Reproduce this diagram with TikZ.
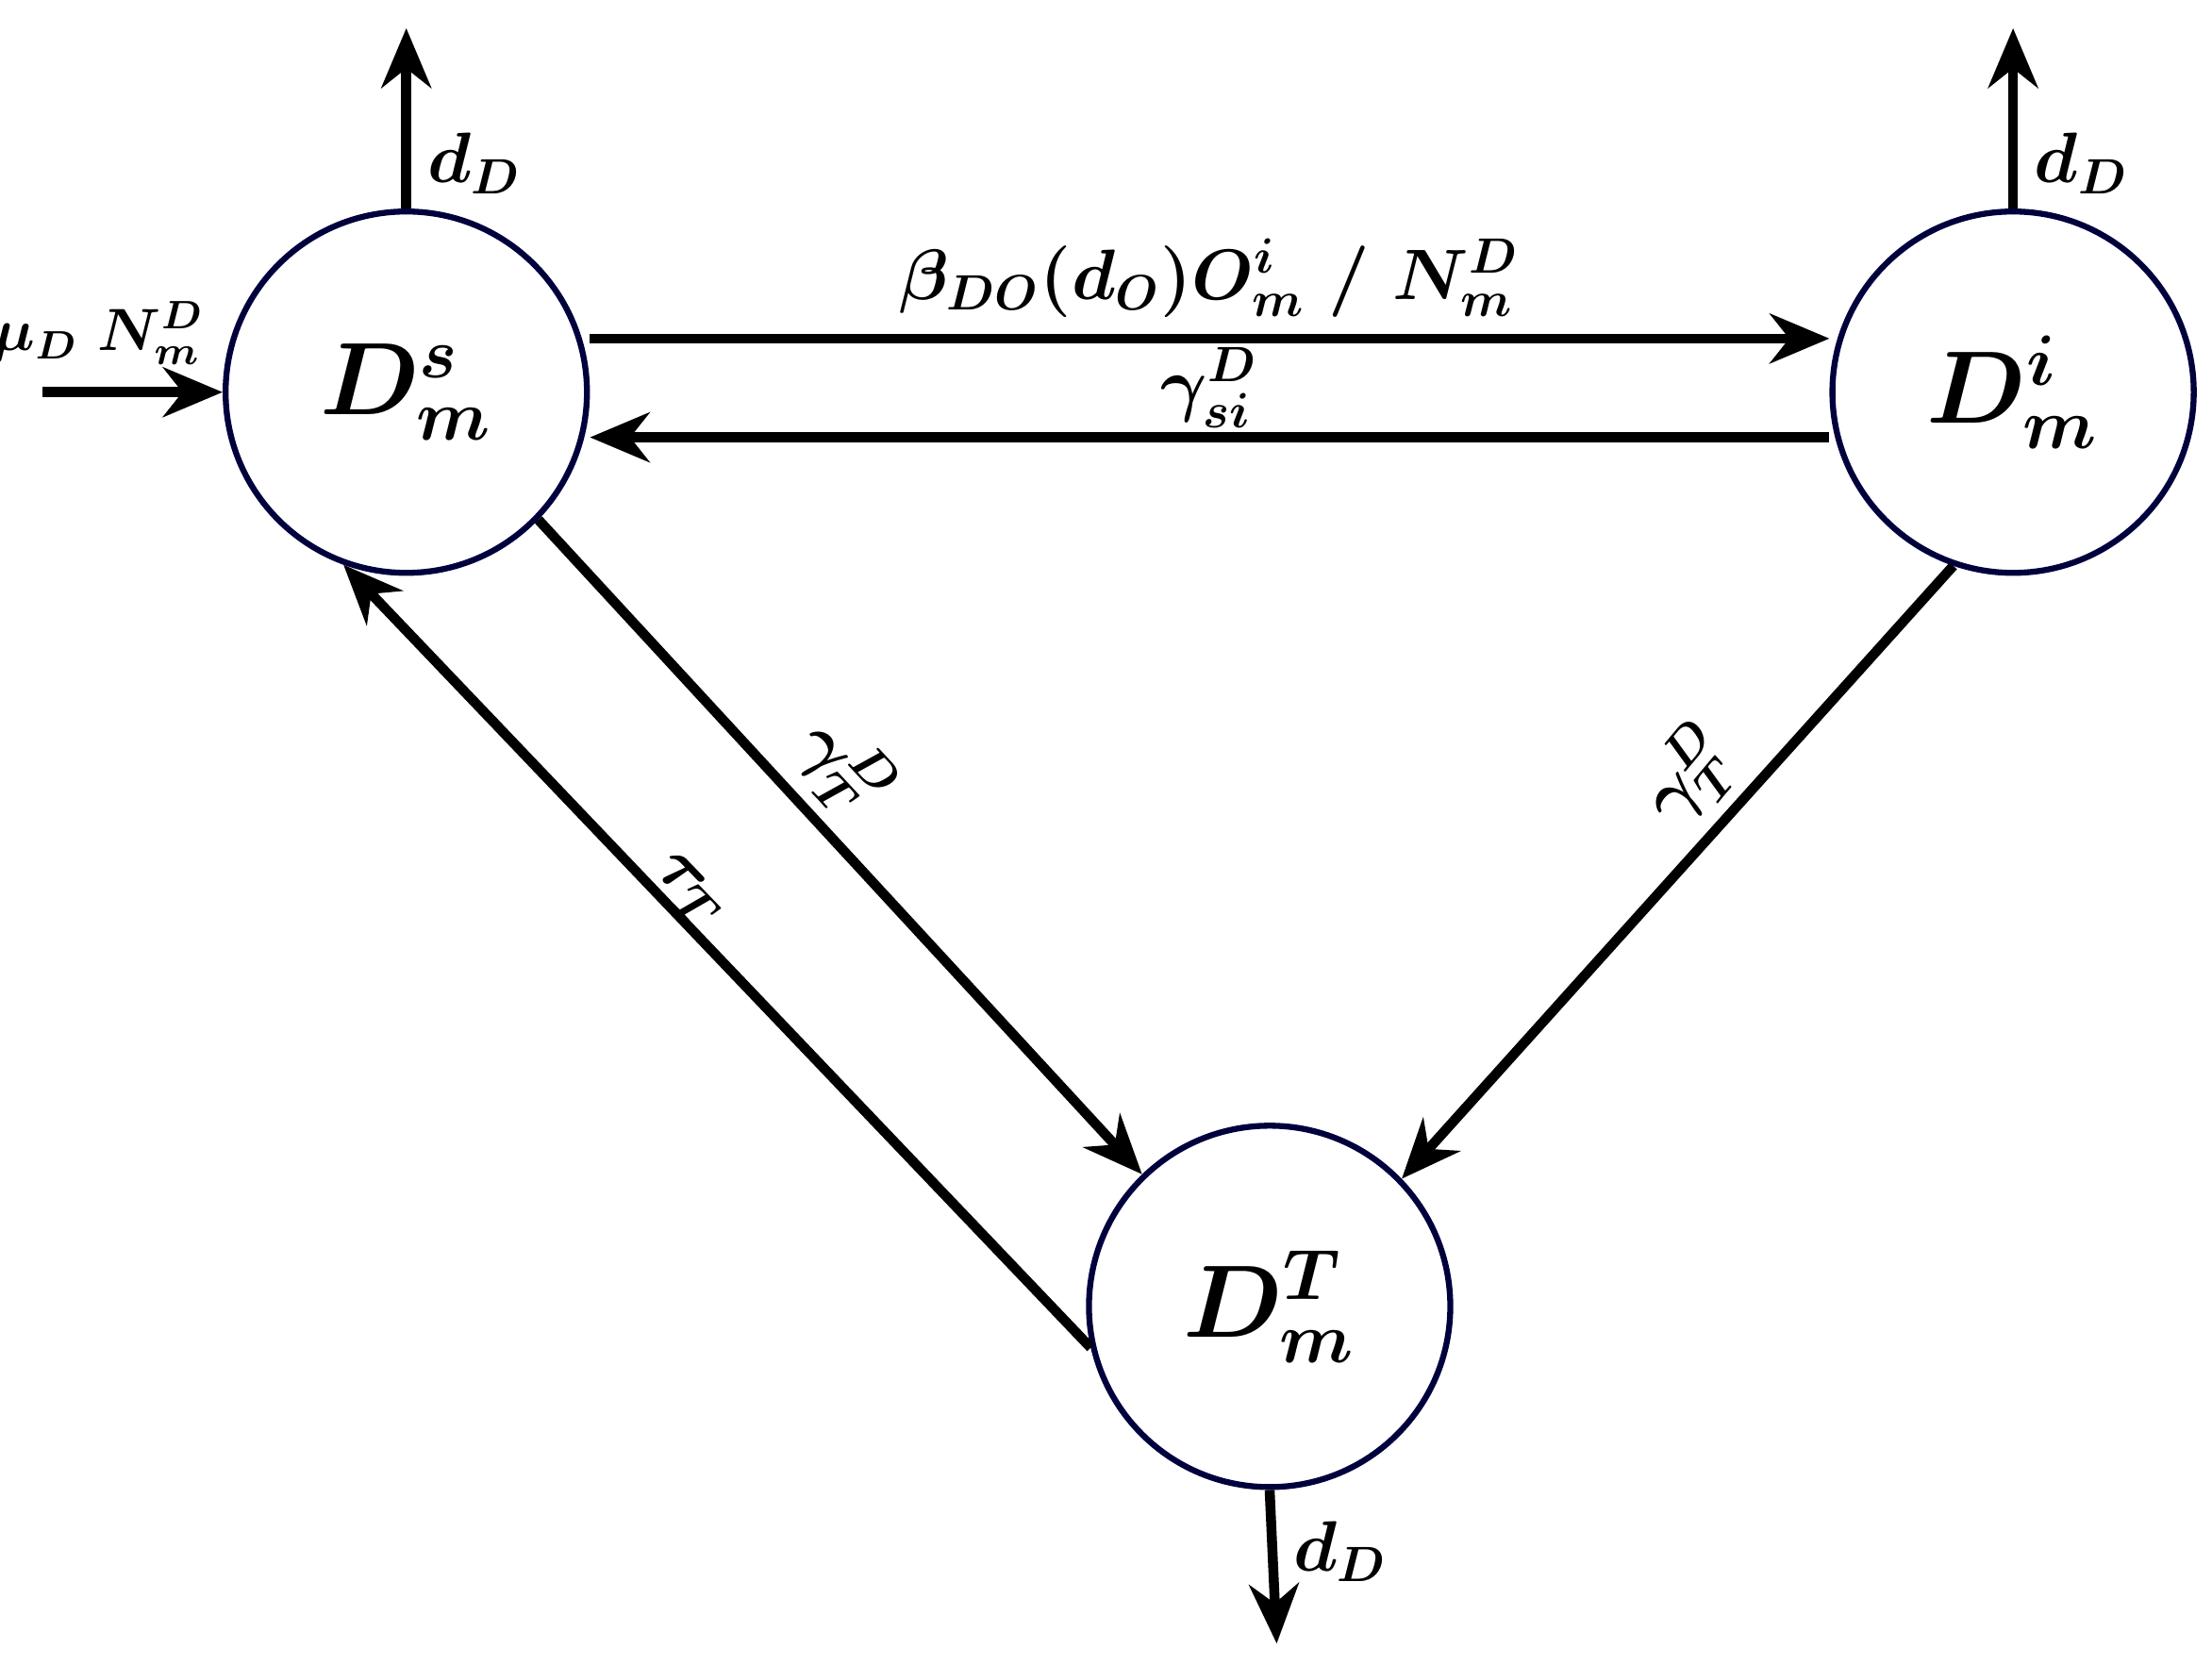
\documentclass[tikz,border=0pt]{standalone}
\usepackage{amsmath,bm}
\usetikzlibrary{arrows.meta}
\begin{document}
\begin{tikzpicture}[x=0.01cm,y=-0.01cm,
  st/.style={circle,draw=black!70!blue!80!black,line width=1.2pt,minimum size=2.56cm,inner sep=0pt,font=\huge},
  ar/.style={line width=2pt,-{Stealth[length=12pt,width=10pt]}},
  lb/.style={font=\Large}]
\useasboundingbox (0,0) rectangle (1568,1180);
\node[st] (S) at (288,278) {$\bm{D_m^s}$};
\node[st] (I) at (1427,278) {$\bm{D_m^i}$};
\node[st] (T) at (900,926) {$\bm{D_m^T}$};
\coordinate (s1) at (288,20);
\coordinate (i1) at (1427,20);
\coordinate (t1) at (905,1165);
\coordinate (m0) at (30,278);
\draw[ar] (S.north) -- (s1) node[lb,pos=0.25,right] {$\bm{d_D}$};
\draw[ar] (I.north) -- (i1) node[lb,pos=0.25,right] {$\bm{d_D}$};
\draw[ar] (T.south) -- (t1) node[lb,pos=0.4,right] {$\bm{d_D}$};
\draw[ar] (m0) -- (S.west);
\node[font=\large] (mu) at (70,236) {$\bm{\mu_D\ N_m^D}$};
\draw[ar] ([yshift=0.38cm]S.east) -- ([yshift=0.38cm]I.west) node[lb,midway,above] {$\bm{\beta_{DO}(d_O)O_m^i\ /\ N_m^D}$};
\draw[ar] ([yshift=-0.32cm]I.west) -- ([yshift=-0.32cm]S.east) node[lb,midway,above,inner sep=1pt] {$\bm{\gamma_{si}^D}$};
\draw[ar] (S.-44) -- (T.134);
\draw[ar] (T.193) -- (S.-110);
\draw[ar] (I.-109) -- (T.44);
\node[lb,rotate=-47] (g1) at (598,545) {$\bm{\gamma_T^D}$};
\node[lb,rotate=-46] (t2) at (488,632) {$\bm{\tau_T}$};
\node[lb,rotate=50] (g2) at (1198,550) {$\bm{\gamma_T^D}$};
\end{tikzpicture}
\end{document}
